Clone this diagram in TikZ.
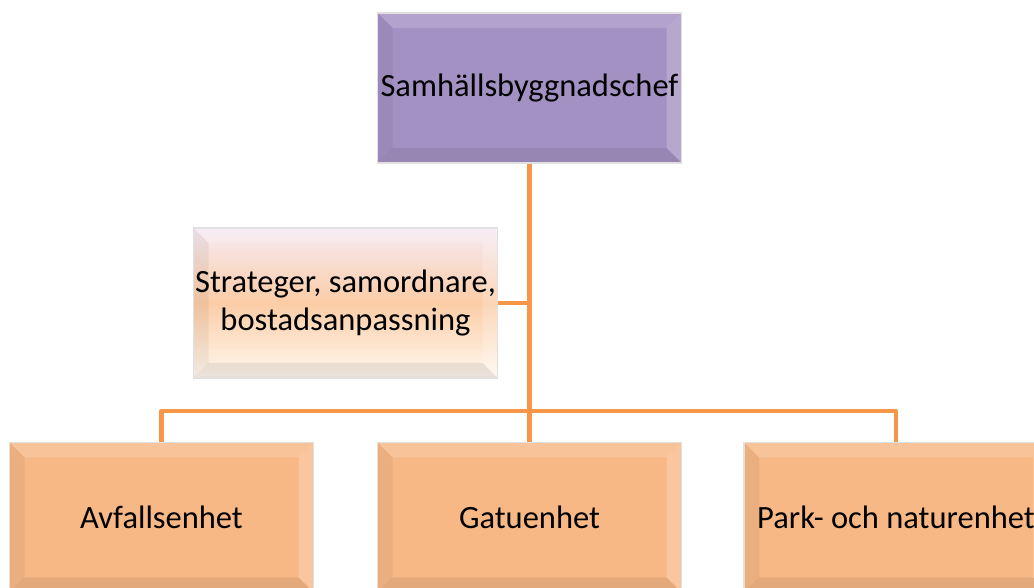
\documentclass[tikz,border=0pt]{standalone}
\usepackage{fontspec}
\setmainfont{Carlito}
\usepackage{xcolor}
\definecolor{chefviolet}{HTML}{A491C4}
\definecolor{unitorange}{HTML}{F8B886}
\definecolor{linkorange}{HTML}{F79646}
\definecolor{stabtop}{HTML}{F6EAF4}
\definecolor{stabmid}{HTML}{FBCDA6}
\definecolor{stabbot}{HTML}{FFF8F0}
\usetikzlibrary{calc,positioning}
\tikzset{bevel/.style={path picture={
  \path (path picture bounding box.south west) coordinate (bvsw)
        (path picture bounding box.north east) coordinate (bvne);
  % top and right edges lit, bottom and left in shade
  \fill[white,opacity=.16] (bvsw |- bvne) -- (bvne) -- ($(bvne)+(-15,-15)$) -- ($(bvsw |- bvne)+(15,-15)$) -- cycle;
  \fill[white,opacity=.2] (bvne) -- (bvne |- bvsw) -- ($(bvne |- bvsw)+(-15,15)$) -- ($(bvne)+(-15,-15)$) -- cycle;
  \fill[black,opacity=.08] (bvsw) -- (bvne |- bvsw) -- ($(bvne |- bvsw)+(-15,15)$) -- ($(bvsw)+(15,15)$) -- cycle;
  \fill[black,opacity=.05] (bvsw) -- (bvsw |- bvne) -- ($(bvsw |- bvne)+(15,-15)$) -- ($(bvsw)+(15,15)$) -- cycle;
}}}
\begin{document}
\begin{tikzpicture}[x=1pt,y=1pt,font=\fontsize{32.5}{38}\selectfont,
  box/.style={draw=black!12,line width=1.5pt,minimum width=304pt,minimum height=150pt,inner sep=0pt,align=center,bevel},
  chefbox/.style={box,fill=chefviolet},
  unitbox/.style={box,fill=unitorange},
  stabbox/.style={box,top color=stabtop,bottom color=stabbot,middle color=stabmid},
  link/.style={draw=linkorange,line width=4.5pt,line join=round}]
\useasboundingbox (0,0) rectangle (1034,588);
% head of the department
\node[chefbox] (chef) at (529.5,500) {Samhällsbyggnadschef};
% staff function beside the line
\node[stabbox] (stab) at (345.5,285) {Strateger, samordnare,\\bostadsanpassning};
% the three units
\node[unitbox] (avf) at (161.5,70.5) {Avfallsenhet};
\node[unitbox] (gatu) at (529.5,70.5) {Gatuenhet};
\node[unitbox] (park) at (896,70.5) {Park- och naturenhet};
\coordinate (bus) at (529.5,177);
% connectors
\draw[link] (chef.south) -- (gatu.north);
\draw[link] (stab.east) -- (stab.east -| chef.south);
\draw[link] (avf.north) |- (bus) -| (park.north);
\end{tikzpicture}
\end{document}
